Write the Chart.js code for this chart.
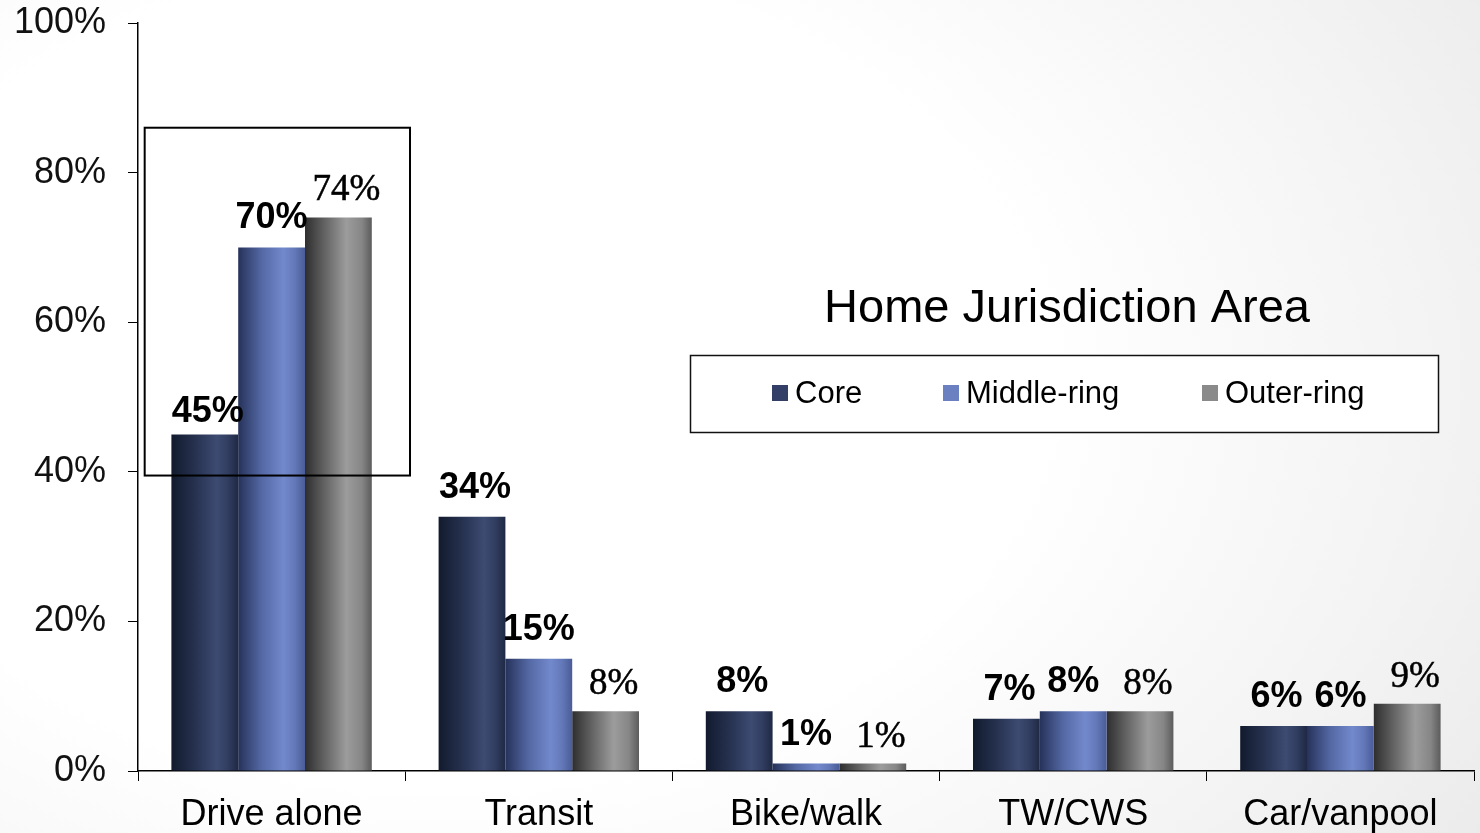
<!DOCTYPE html>
<html>
<head>
<meta charset="utf-8">
<script src="https://cdn.jsdelivr.net/npm/chart.js@4.4.1/dist/chart.umd.min.js"></script>
<style>
  html, body { margin: 0; padding: 0; }
  body {
    width: 1480px; height: 833px; overflow: hidden;
    background: radial-gradient(ellipse 90% 110% at 30% 45%, #ffffff 45%, #f3f3f3 75%, #e8e8e8 100%);
  }
  #wrap { position: relative; width: 1480px; height: 833px; }
</style>
</head>
<body>
<div id="wrap"><canvas id="c"></canvas></div>
<script>
const categories = ["Drive alone", "Transit", "Bike/walk", "TW/CWS", "Car/vanpool"];
const seriesNames = ["Core", "Middle-ring", "Outer-ring"];
const coreValues = [45, 34, 8, 7, 6];
const middleValues = [70, 15, 1, 8, 6];
const outerValues = [74, 8, 1, 8, 9];
const yTicks = [0, 20, 40, 60, 80, 100];
const chartTitle = "Home Jurisdiction Area";
// highlighted region around "Drive alone" (category index units, percent units)
const highlightBox = { x0: -0.475, x1: 0.518, y0: 39.5, y1: 86 };

const seriesStops = [
  [[0, '#111a2d'], [0.35, '#26314f'], [0.68, '#3d4b72'], [0.85, '#313d60'], [1, '#1f2944']],
  [[0, '#26325a'], [0.35, '#5468a4'], [0.68, '#7289cc'], [0.85, '#6378b8'], [1, '#4a5c98']],
  [[0, '#2e2e2e'], [0.3, '#646464'], [0.62, '#9c9c9c'], [0.85, '#868686'], [1, '#5c5c5c']]
];
const legendColors = ['#333f66', '#6b80c0', '#8a8a8a'];
const outerFont = '37px "Liberation Serif", "Times New Roman", serif';
const boldFont = 'bold 36px "Liberation Sans", Arial, sans-serif';

function barGradient(ctx) {
  const chart = ctx.chart;
  const xs = chart.scales.x;
  if (!chart.chartArea || !xs) return legendColors[ctx.datasetIndex];
  const catW = xs.width / categories.length;
  const barW = catW * 0.75 / 3;
  const center = xs.getPixelForValue(ctx.dataIndex);
  const left = center - catW * 0.375 + ctx.datasetIndex * barW;
  const g = chart.ctx.createLinearGradient(left, 0, left + barW, 0);
  seriesStops[ctx.datasetIndex].forEach(s => g.addColorStop(s[0], s[1]));
  return g;
}

const labelPlugin = {
  id: 'labels',
  afterDatasetsDraw(chart) {
    const c = chart.ctx;
    c.save();
    c.textAlign = 'center';
    c.textBaseline = 'alphabetic';
    c.fillStyle = '#000';
    c.strokeStyle = '#000';
    chart.data.datasets.forEach((ds, di) => {
      const meta = chart.getDatasetMeta(di);
      meta.data.forEach((el, i) => {
        const v = ds.data[i];
        if (di === 2) {
          c.font = outerFont;
          c.lineWidth = 0.5;
          c.fillText(v + '%', el.x + 8, el.y - 17);
          c.strokeText(v + '%', el.x + 8, el.y - 17);
        } else {
          c.font = boldFont;
          c.fillText(v + '%', el.x + (di === 0 ? 3 : 0), el.y - (di === 0 && v > 40 ? 12 : 19));
        }
      });
    });
    c.restore();
  }
};

const boxPlugin = {
  id: 'box',
  afterDatasetsDraw(chart) {
    const xs = chart.scales.x, ys = chart.scales.y, c = chart.ctx;
    const x0 = xs.getPixelForValue(highlightBox.x0);
    const x1 = xs.getPixelForValue(highlightBox.x1);
    const y0 = ys.getPixelForValue(highlightBox.y0);
    const y1 = ys.getPixelForValue(highlightBox.y1);
    c.save();
    c.strokeStyle = '#000';
    c.lineWidth = 2;
    c.strokeRect(x0, y1, x1 - x0, y0 - y1);
    c.restore();
  }
};

const legendPlugin = {
  id: 'customLegend',
  afterDraw(chart) {
    const c = chart.ctx;
    c.save();
    c.fillStyle = '#000';
    c.textAlign = 'center';
    c.textBaseline = 'middle';
    c.font = '47px "Liberation Sans", Arial, sans-serif';
    c.fillText(chartTitle, 1067, 309);
    // box
    c.fillStyle = '#fff';
    c.fillRect(690, 355, 748, 77);
    c.strokeStyle = '#111';
    c.lineWidth = 1.5;
    c.strokeRect(690.5, 355.5, 748, 77);
    const itemX = [772, 943, 1202];
    c.font = '31px "Liberation Sans", Arial, sans-serif';
    c.textAlign = 'left';
    seriesNames.forEach((name, i) => {
      c.fillStyle = legendColors[i];
      c.fillRect(itemX[i], 385, 16, 16);
      c.fillStyle = '#000';
      c.fillText(name, itemX[i] + 23, 394);
    });
    c.restore();
  }
};

new Chart(document.getElementById('c'), {
  type: 'bar',
  data: {
    labels: categories,
    datasets: [
      { label: seriesNames[0], data: coreValues },
      { label: seriesNames[1], data: middleValues },
      { label: seriesNames[2], data: outerValues }
    ].map(d => Object.assign(d, {
      backgroundColor: barGradient,
      borderWidth: 0,
      categoryPercentage: 0.75,
      barPercentage: 1.0
    }))
  },
  options: {
    responsive: true,
    maintainAspectRatio: false,
    animation: false,
    layout: { padding: { top: 23, right: 6, left: 0, bottom: 0 } },
    plugins: { legend: { display: false }, title: { display: false }, tooltip: { enabled: false } },
    scales: {
      x: {
        afterFit(s) { s.height = 62; s.paddingLeft = 0; s.paddingRight = 0; },
        grid: { display: true, drawOnChartArea: false, drawTicks: true, tickLength: 10, color: '#000', offset: true },
        border: { display: true, color: '#000', width: 1.5 },
        ticks: { color: '#000', padding: 12, font: { family: '"Liberation Sans", Arial, sans-serif', size: 36 } }
      },
      y: {
        min: 0, max: 100,
        afterFit(s) { s.width = 138; s.paddingTop = 0; s.paddingBottom = 0; },
        afterBuildTicks(s) { s.ticks = yTicks.map(v => ({ value: v })); },
        grid: { display: true, drawOnChartArea: false, drawTicks: true, tickLength: 10, color: '#000' },
        border: { display: true, color: '#000', width: 1.5 },
        ticks: {
          color: '#111', padding: 22,
          font: { family: '"Liberation Sans", Arial, sans-serif', size: 36 },
          callback: v => v + '%'
        }
      }
    }
  },
  plugins: [labelPlugin, boxPlugin, legendPlugin]
});
</script>
</body>
</html>
